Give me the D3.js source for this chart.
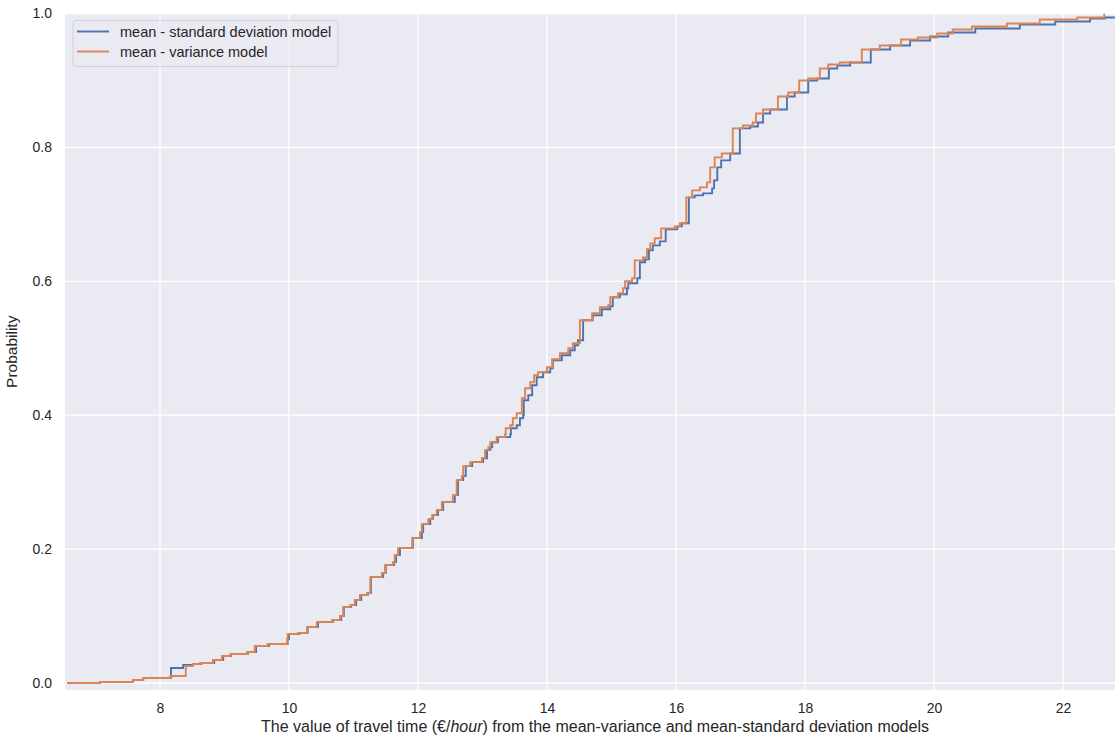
<!DOCTYPE html>
<html>
<head>
<meta charset="utf-8">
<script src="https://cdn.jsdelivr.net/npm/d3@7"></script>
<style>
  body { margin: 0; background: #fff; }
  text { font-family: "Liberation Sans", Arial, sans-serif; fill: #262626; }
  .grid line { stroke: #fff; stroke-width: 1.3; }
  .sd { fill: none; stroke: #4C72B0; stroke-width: 1.9; }
  .var { fill: none; stroke: #DD8452; stroke-width: 1.9; }
</style>
</head>
<body>
<script>
// ECDF steps: [value, cumulative probability]
var sdModel = [[6.56,0],[7.07,0.0015],[7.58,0.0045],[7.74,0.0075],[8.17,0.0224],[8.36,0.0269],[8.51,0.0284],[8.64,0.0299],[8.84,0.0343],[8.98,0.0403],[9.10,0.0433],[9.36,0.0463],[9.49,0.0552],[9.69,0.0582],[9.98,0.0657],[10.00,0.0731],[10.16,0.0746],[10.29,0.0836],[10.45,0.0910],[10.68,0.0940],[10.81,0.1000],[10.85,0.1134],[10.96,0.1164],[11.04,0.1239],[11.12,0.1313],[11.22,0.1343],[11.27,0.1582],[11.46,0.1642],[11.50,0.1761],[11.63,0.1806],[11.66,0.1910],[11.72,0.2015],[11.92,0.2164],[12.06,0.2254],[12.08,0.2373],[12.19,0.2448],[12.23,0.2507],[12.31,0.2582],[12.39,0.2701],[12.57,0.2806],[12.62,0.3030],[12.70,0.3090],[12.74,0.3239],[12.84,0.3299],[13.01,0.3358],[13.07,0.3478],[13.12,0.3522],[13.15,0.3597],[13.24,0.3672],[13.43,0.3716],[13.44,0.3806],[13.53,0.3851],[13.58,0.3955],[13.63,0.4000],[13.64,0.4224],[13.71,0.4299],[13.77,0.4448],[13.84,0.4567],[13.94,0.4642],[14.05,0.4701],[14.09,0.4821],[14.23,0.4896],[14.36,0.4970],[14.43,0.5045],[14.48,0.5119],[14.56,0.5418],[14.71,0.5493],[14.85,0.5582],[14.98,0.5627],[15.02,0.5761],[15.13,0.5806],[15.24,0.5896],[15.26,0.5970],[15.40,0.6045],[15.44,0.6284],[15.52,0.6328],[15.58,0.6463],[15.64,0.6537],[15.75,0.6597],[15.84,0.6776],[16.02,0.6821],[16.09,0.6866],[16.20,0.7254],[16.29,0.7284],[16.42,0.7313],[16.56,0.7388],[16.59,0.7507],[16.64,0.7701],[16.70,0.7806],[16.84,0.7910],[16.99,0.8284],[17.15,0.8313],[17.27,0.8373],[17.35,0.8507],[17.46,0.8567],[17.72,0.8761],[17.84,0.8821],[18.05,0.9000],[18.19,0.9030],[18.37,0.9179],[18.50,0.9224],[18.70,0.9269],[19.02,0.9463],[19.32,0.9522],[19.63,0.9597],[19.94,0.9657],[20.22,0.9716],[20.64,0.9776],[21.33,0.9836],[21.88,0.9881],[22.42,0.9925],[22.65,0.9940],[22.95,1.0]];

var varModel = [[6.56,0],[7.07,0.0015],[7.58,0.0045],[7.74,0.0075],[8.16,0.0104],[8.40,0.0254],[8.51,0.0284],[8.62,0.0299],[8.82,0.0343],[8.96,0.0403],[9.09,0.0433],[9.35,0.0463],[9.47,0.0552],[9.67,0.0582],[9.97,0.0657],[9.98,0.0731],[10.14,0.0746],[10.28,0.0836],[10.43,0.0910],[10.67,0.0940],[10.79,0.1000],[10.84,0.1134],[10.95,0.1164],[11.02,0.1239],[11.10,0.1313],[11.21,0.1343],[11.26,0.1582],[11.44,0.1642],[11.49,0.1761],[11.61,0.1806],[11.64,0.1910],[11.69,0.2015],[11.91,0.2164],[12.03,0.2254],[12.06,0.2373],[12.16,0.2448],[12.22,0.2507],[12.29,0.2582],[12.37,0.2701],[12.54,0.2806],[12.60,0.3030],[12.68,0.3090],[12.70,0.3239],[12.81,0.3299],[12.99,0.3358],[13.04,0.3478],[13.09,0.3522],[13.12,0.3597],[13.22,0.3672],[13.35,0.3716],[13.36,0.3806],[13.43,0.3851],[13.47,0.3955],[13.53,0.4030],[13.61,0.4254],[13.66,0.4403],[13.74,0.4493],[13.80,0.4597],[13.86,0.4642],[14.00,0.4716],[14.08,0.4836],[14.20,0.4925],[14.33,0.5000],[14.40,0.5075],[14.51,0.5418],[14.70,0.5522],[14.82,0.5612],[14.95,0.5642],[14.98,0.5761],[15.10,0.5821],[15.18,0.5896],[15.21,0.6000],[15.32,0.6045],[15.36,0.6313],[15.49,0.6358],[15.55,0.6478],[15.60,0.6567],[15.67,0.6642],[15.77,0.6791],[15.98,0.6821],[16.06,0.6866],[16.16,0.7254],[16.25,0.7358],[16.37,0.7403],[16.48,0.7478],[16.53,0.7701],[16.60,0.7851],[16.71,0.7910],[16.88,0.8284],[17.04,0.8328],[17.19,0.8373],[17.24,0.8507],[17.35,0.8567],[17.58,0.8761],[17.74,0.8821],[17.91,0.9000],[18.05,0.9030],[18.23,0.9179],[18.36,0.9239],[18.54,0.9269],[18.88,0.9463],[19.16,0.9522],[19.49,0.9612],[19.75,0.9642],[20.05,0.9701],[20.29,0.9761],[20.59,0.9806],[21.13,0.9851],[21.64,0.9910],[22.22,0.9940],[22.64,1.0]];

var xTicks = [8, 10, 12, 14, 16, 18, 20, 22];
var yTicks = [0, 0.2, 0.4, 0.6, 0.8, 1.0];
var seriesNames = ["mean - standard deviation model", "mean - variance model"];

var margin = {top: 13.5, right: 0, bottom: 50, left: 65},
    width = 1115 - margin.left - margin.right,
    height = 740 - margin.top - margin.bottom;

// 8 sits at 95px, 22 at 998px from the left edge of the axes
var x = d3.scaleLinear().domain([8, 22]).range([95, 998]);
var y = d3.scaleLinear().domain([0, 1]).range([669.5, 0]);

var svg = d3.select("body").append("svg")
    .attr("width", 1115)
    .attr("height", 740)
  .append("g")
    .attr("transform", "translate(" + margin.left + "," + margin.top + ")");

svg.append("rect")
    .attr("width", width)
    .attr("height", height)
    .attr("fill", "#EAEAF2");

svg.append("clipPath")
    .attr("id", "clip")
  .append("rect")
    .attr("width", width)
    .attr("height", height);

// grid
var grid = svg.append("g").attr("class", "grid");
grid.selectAll(".gx").data(xTicks).enter().append("line")
    .attr("x1", function(d) { return x(d); })
    .attr("x2", function(d) { return x(d); })
    .attr("y1", 0)
    .attr("y2", height);
grid.selectAll(".gy").data(yTicks).enter().append("line")
    .attr("x1", 0)
    .attr("x2", width)
    .attr("y1", function(d) { return y(d); })
    .attr("y2", function(d) { return y(d); });

// tick labels
svg.append("g")
    .attr("transform", "translate(0," + height + ")")
    .call(d3.axisBottom(x).tickValues(xTicks).tickSize(0).tickPadding(13).tickFormat(d3.format("d")))
    .call(function(g) { g.select(".domain").remove(); })
    .selectAll("text")
    .style("font-size", "14px")
    .attr("fill", "#262626");

svg.append("g")
    .call(d3.axisLeft(y).tickValues(yTicks).tickSize(0).tickPadding(13).tickFormat(d3.format(".1f")))
    .call(function(g) { g.select(".domain").remove(); })
    .selectAll("text")
    .style("font-size", "14px")
    .attr("fill", "#262626");

var line = d3.line()
    .curve(d3.curveStepAfter)
    .x(function(d) { return x(d[0]); })
    .y(function(d) { return y(d[1]); });

var plot = svg.append("g").attr("clip-path", "url(#clip)");

plot.append("path")
    .datum(sdModel)
    .attr("class", "sd")
    .attr("d", line);

plot.append("path")
    .datum(varModel)
    .attr("class", "var")
    .attr("d", line);

// legend
var legend = svg.append("g")
    .attr("transform", "translate(8,7)");

legend.append("rect")
    .attr("width", 265)
    .attr("height", 46)
    .attr("rx", 3)
    .attr("fill", "#EAEAF2")
    .attr("fill-opacity", 0.8)
    .attr("stroke", "#cccccc")
    .attr("stroke-width", 0.8);

legend.selectAll(".key").data(seriesNames).enter().append("line")
    .attr("x1", 4)
    .attr("x2", 36)
    .attr("y1", function(d, i) { return 11 + i * 20; })
    .attr("y2", function(d, i) { return 11 + i * 20; })
    .attr("stroke", function(d, i) { return i ? "#DD8452" : "#4C72B0"; })
    .attr("stroke-width", 1.9);

legend.selectAll(".lbl").data(seriesNames).enter().append("text")
    .attr("x", 47)
    .attr("y", function(d, i) { return 11 + i * 20; })
    .attr("dy", "0.35em")
    .style("font-size", "14.5px")
    .text(function(d) { return d; });

// axis labels
var xl = svg.append("text")
    .attr("x", 530)
    .attr("y", height + 42)
    .attr("text-anchor", "middle")
    .style("font-size", "16px");
xl.append("tspan").text("The value of travel time (€/");
xl.append("tspan").style("font-style", "italic").text("hour");
xl.append("tspan").text(") from the mean-variance and mean-standard deviation models");

svg.append("text")
    .attr("transform", "rotate(-90)")
    .attr("x", -height / 2)
    .attr("y", -48)
    .attr("text-anchor", "middle")
    .style("font-size", "15.5px")
    .text("Probability");
</script>
</body>
</html>
